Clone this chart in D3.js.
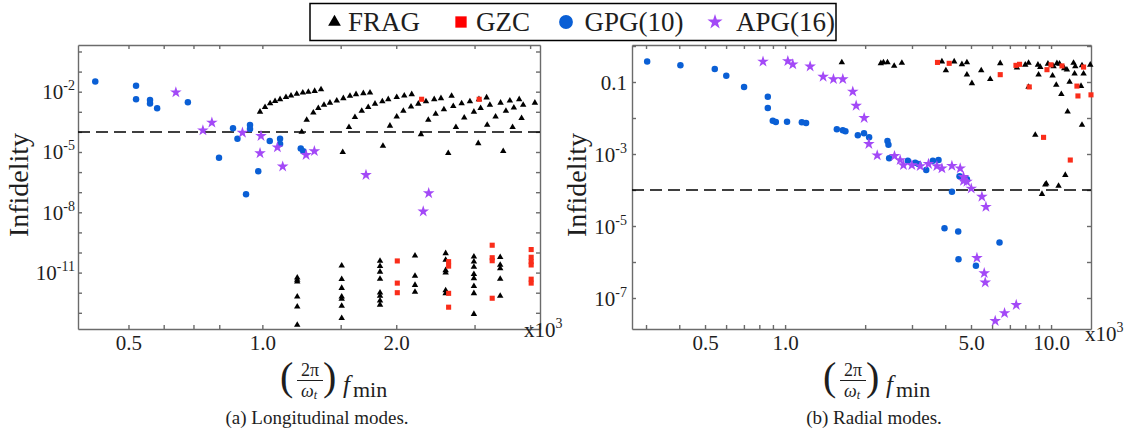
<!DOCTYPE html>
<html>
<head>
<meta charset="utf-8">
<script src="https://cdn.jsdelivr.net/npm/d3@7"></script>
<style>
    body { margin: 0; background: #fff; }
    svg text { font-family: "Liberation Serif", "Times New Roman", serif; fill: #1e1e1e; }
</style>
</head>
<body>
<svg id="fig" width="1129" height="433"></svg>
<script>
// values are [f_min (x10^3), infidelity]

// (a) longitudinal modes
var longFRAG = [
    [0.988,1.0e-3],[1.014,1.7e-3],[1.041,2.6e-3],[1.068,3.4e-3],[1.096,4.2e-3],[1.130,5.3e-3],[1.160,6.3e-3],[1.195,7.7e-3],[1.233,8.9e-3],[1.269,9.7e-3],[1.311,1.08e-2],[1.355,1.3e-2],
    [1.226,1.0e-4],[1.258,3.9e-4],[1.302,9.1e-4],[1.336,1.5e-3],[1.376,2.2e-3],[1.419,2.8e-3],[1.470,3.6e-3],[1.521,4.7e-3],[1.574,6.1e-3],[1.624,7.4e-3],[1.687,8.3e-3],[1.746,8.9e-3],
    [1.566,1.7e-4],[1.615,5.4e-4],[1.673,1.1e-3],[1.730,1.7e-3],[1.792,2.5e-3],[1.861,3.3e-3],[1.919,4.2e-3],[2.005,5.3e-3],[2.085,6.3e-3],[2.167,7.4e-3],
    [1.936,2.0e-4],[2.005,5.7e-4],[2.075,1.1e-3],[2.159,1.8e-3],[2.242,2.5e-3],[2.333,3.3e-3],[2.435,4.2e-3],[2.521,4.7e-3],[2.664,6.1e-3],
    [2.273,7.6e-5],[2.361,3.9e-4],[2.453,7.8e-4],[2.560,1.3e-3],[2.687,1.9e-3],[2.806,2.6e-3],[2.929,3.3e-3],[3.069,4.2e-3],[3.193,5.1e-3],
    [2.724,1.7e-4],[2.844,5.1e-4],[2.990,1.0e-3],[3.096,1.5e-3],[3.248,2.2e-3],[3.433,2.8e-3],[3.602,3.6e-3],[3.780,4.2e-3],[4.100,2.8e-3],
    [3.203,2.2e-4],[3.345,5.7e-4],[3.529,1.1e-3],[3.677,1.6e-3],[3.859,2.2e-3],
    [3.653,1.7e-4],[3.827,4.8e-4],
    [1.516,9.8e-6],[1.867,2.0e-5],[2.618,8.7e-6],[3.058,2.7e-5],[3.480,1.1e-5],
    [1.198,5.6e-12],[1.198,4.3e-12],[1.198,3.5e-12],[1.198,6.3e-13],[1.198,2.0e-13],[1.198,2.5e-14],
    [1.508,2.2e-11],[1.508,4.7e-12],[1.508,1.7e-12],[1.508,6.3e-13],[1.508,4.9e-13],[1.508,2.2e-13],[1.508,5.4e-14],
    [1.839,3.8e-11],[1.839,2.1e-11],[1.839,1.1e-11],[1.839,4.8e-12],[1.839,1.0e-12],[1.839,6.9e-13],[1.839,4.0e-13],[1.839,2.5e-13],
    [2.204,6.9e-11],[2.204,6.8e-12],[2.204,2.4e-12],[2.204,1.1e-12],
    [2.583,9.1e-11],[2.583,4.3e-11],[2.583,1.3e-11],[2.583,1.0e-11],[2.583,1.3e-12],[2.583,9.3e-13],
    [2.990,6.2e-11],[2.990,3.5e-11],[2.990,1.9e-11],[2.990,8.3e-12],[2.990,5.2e-12],[2.990,2.1e-12],[2.990,9.3e-13],[2.990,8.7e-14],
    [3.426,5.8e-11],[3.426,2.4e-11],[3.426,1.6e-11],[3.426,4.8e-12],[3.426,6.9e-13]
];
var longGZC = [
    [2.281,4.2e-3],[3.073,4.2e-3],
    [2.011,3.8e-11],[2.011,3.0e-12],[2.011,1.0e-12],
    [2.623,3.5e-11],[2.623,2.1e-11],[2.623,9.3e-13],[2.623,1.9e-13],
    [3.287,2.3e-10],[3.287,5.5e-11],[3.287,3.9e-11],[3.287,5.3e-13],
    [4.022,1.4e-10],[4.022,5.8e-11],[4.022,3.5e-11],[4.022,2.4e-11],[4.022,4.7e-12],[4.022,3.0e-12]
];
var longGPG = [
    [0.421,3.2e-2],[0.520,2.0e-2],[0.520,4.2e-3],[0.559,3.9e-3],[0.559,2.6e-3],[0.580,1.5e-3],[0.680,3.0e-3],
    [0.799,5.2e-6],[0.859,1.5e-4],[0.879,4.5e-5],[0.938,2.2e-4],[0.938,1.4e-4],[0.979,1.1e-6],[0.919,7.9e-8],
    [1.039,3.5e-5],[1.096,4.5e-5],[1.096,2.5e-5],[1.220,1.5e-5],[1.236,1.1e-5]
];
var longAPG = [
    [0.639,9.3e-3],[0.735,1.2e-4],[0.770,2.9e-4],[0.902,9.1e-5],[0.993,6.3e-5],[0.988,8.7e-6],[1.081,1.7e-5],
    [1.111,1.9e-6],[1.254,7.1e-6],[1.309,1.1e-5],[1.710,7.2e-7],[2.366,8.9e-8],[2.300,1.1e-8]
];

// (b) radial modes
var radFRAG = [
    [1.634,0.35],[2.291,0.33],[2.343,0.35],[2.426,0.35],[2.571,0.28],[2.748,0.34],
    [3.887,0.37],[4.023,0.21],[4.323,0.37],[4.621,0.31],[4.826,0.35],[4.826,0.16],[5.040,0.092],[5.463,0.21],[5.905,0.12],[6.440,0.33],
    [7.442,0.25],[7.998,0.30],[8.230,0.34],[8.927,0.30],[9.108,0.26],[8.974,0.16],[8.230,0.073],[9.734,0.32],[10.13,0.15],[10.22,0.27],
    [10.52,0.33],[10.76,0.32],[11.21,0.24],[11.47,0.22],[10.46,0.083],[10.93,0.046],[11.74,0.10],[12.15,0.34],[12.33,0.27],[12.26,0.17],
    [13.07,0.29],[13.25,0.17],[12.96,0.077],[11.54,0.015],[13.07,6.4e-3],[8.722,3.4e-3],[11.31,2.6e-4],
    [9.511,1.4e-4],[10.67,1.3e-4],[9.243,7.7e-5],[9.594,1.5e-4],[14.04,0.30]
];
var radGZC = [
    [3.741,0.35],[4.140,0.33],[6.440,0.16],[7.379,0.29],[7.612,0.31],[8.279,0.073],[9.652,0.22],[9.991,0.30],
    [10.99,0.28],[12.51,0.077],[12.62,0.041],[13.25,0.26],[14.13,0.044],[9.372,2.9e-3],[11.81,6.8e-4]
];
var radGPG = [
    [0.303,0.37],[0.404,0.29],[0.544,0.23],[0.601,0.15],[0.701,0.073],[0.861,0.039],[0.861,0.019],[0.899,8.4e-3],
    [0.923,7.7e-3],[1.017,7.9e-3],[1.156,7.6e-3],[1.199,7.3e-3],[1.565,4.9e-3],[1.648,4.6e-3],[1.686,4.3e-3],[1.877,3.3e-3],
    [1.98,3.8e-3],[2.07,2.9e-3],[2.426,2.3e-3],[2.447,1.8e-3],[2.462,7.6e-4],[2.894,6.5e-4],[3.084,5.7e-4],[3.174,5.3e-4],
    [3.393,3.6e-4],[3.594,6.5e-4],[3.774,6.8e-4],[4.527,2.4e-4],[4.826,2.0e-4],[4.24,9.0e-5],[3.975,8.6e-6],[4.476,7.0e-6],
    [6.400,3.5e-6],[4.487,1.2e-6],[5.218,7.9e-7]
];
var radAPG = [
    [0.826,0.37],[1.024,0.38],[1.069,0.31],[1.242,0.27],[1.390,0.14],[1.520,0.12],[1.648,0.12],[1.797,0.054],[1.850,0.022],
    [1.983,0.010],[2.065,1.9e-3],[2.22,9.2e-4],[2.578,8.8e-4],[2.708,6.8e-4],[2.786,4.9e-4],[2.996,4.9e-4],[3.221,4.6e-4],
    [3.461,5.3e-4],[3.721,4.6e-4],[3.887,4.0e-4],[4.238,4.7e-4],[4.554,4.0e-4],[4.685,2.3e-4],[4.685,1.8e-4],[4.826,1.7e-4],
    [5.010,1.1e-4],[5.495,6.5e-5],[5.690,3.4e-5],[5.263,1.3e-6],[5.607,4.9e-7],[5.655,2.7e-7],[7.397,6.4e-8],[6.685,3.8e-8],[6.166,2.3e-8]
];

var threshold = 1e-4;

var longXTicks = [0.5, 0.6, 0.7, 0.8, 1.0, 1.5, 2.0, 3.0, 4.0];
var longXLabels = [0.5, 1.0, 2.0];
var longYExp = [-13, -12, -11, -10, -9, -8, -7, -6, -5, -4, -3, -2, -1, 0];
var longYLabels = [-2, -5, -8, -11];

var radXTicks = [0.3, 0.4, 0.5, 0.6, 0.7, 0.8, 0.9, 1.0, 2.0, 3.0, 4.0, 5.0, 6.0, 7.0, 8.0, 9.0, 10.0];
var radXLabels = [0.5, 1.0, 5.0, 10.0];
var radYExp = [-7, -6, -5, -4, -3, -2, -1, 0];
var radYLabels = [-1, -3, -5, -7];

var seriesNames = ["FRAG", "GZC", "GPG(10)", "APG(16)"];
var seriesColors = ["#000000", "#fa2d1a", "#0a5fd5", "#a349f7"];

var svg = d3.select("#fig");
var axisColor = "#6b6b6b";

var symbolFor = [d3.symbolTriangle, d3.symbolSquare, d3.symbolCircle, d3.symbolStar];
var plotSizes = [18, 26, 33, 42];
var legendSizes = [70, 128, 150, 72];

let drawXLabel = function (x0) {
    let g = svg.append("g");
    g.append("text").attr("x", x0).attr("y", 390).style("font-size", "40px").text("(");
    g.append("text").attr("x", x0 + 30).attr("y", 375.5).attr("text-anchor", "middle")
        .style("font-size", "18px").text("2π");
    g.append("line").attr("x1", x0 + 17).attr("x2", x0 + 43).attr("y1", 380.5).attr("y2", 380.5)
        .attr("stroke", "#1e1e1e").attr("stroke-width", 1);
    let w = g.append("text").attr("x", x0 + 29).attr("y", 397).attr("text-anchor", "middle")
        .style("font-size", "18px").style("font-style", "italic");
    w.append("tspan").text("ω");
    w.append("tspan").attr("dy", 2).style("font-size", "12px").text("t");
    g.append("text").attr("x", x0 + 43).attr("y", 390).style("font-size", "40px").text(")");
    g.append("text").attr("x", x0 + 63).attr("y", 393).style("font-size", "25px").style("font-style", "italic").text("f");
    g.append("text").attr("x", x0 + 73).attr("y", 397).style("font-size", "22px").text("min");
};

let drawPanel = function (p) {
    var x = d3.scaleLog().domain(p.xDomain).range([p.left, p.right]);
    var y = d3.scaleLog().domain(p.yDomain).range([p.bottom, p.top]);
    var yTicks = p.yExp.map(function (e) { return Math.pow(10, e); });

    var g = svg.append("g");

    var fmt = d3.format(".1f");
    var bottom = g.append("g").attr("transform", "translate(0," + p.bottom + ")")
        .call(d3.axisBottom(x).tickValues(p.xTicks).tickSizeInner(-4).tickSizeOuter(0).tickPadding(6)
            .tickFormat(function (d) { return p.xLabels.indexOf(d) >= 0 ? fmt(d) : ""; }));
    bottom.selectAll("text").style("font-size", "21px");

    g.append("g").attr("transform", "translate(0," + p.top + ")")
        .call(d3.axisTop(x).tickValues(p.xTicks).tickSizeInner(-4).tickSizeOuter(0).tickFormat(""));

    var left = g.append("g").attr("transform", "translate(" + p.left + ",0)")
        .call(d3.axisLeft(y).tickValues(yTicks).tickSizeInner(-4).tickSizeOuter(0).tickFormat(""));

    g.append("g").attr("transform", "translate(" + p.right + ",0)")
        .call(d3.axisRight(y).tickValues(yTicks).tickSizeInner(-4).tickSizeOuter(0).tickFormat(""));

    g.selectAll(".domain, .tick line").attr("stroke", axisColor).attr("stroke-width", 1.4);

    // decade labels, with superscripts
    left.selectAll(".tick").filter(function (d) {
        return p.yLabels.indexOf(Math.round(Math.log10(d))) >= 0;
    }).each(function (d) {
        var e = Math.round(Math.log10(d));
        var t = d3.select(this).append("text")
            .attr("x", -p.labelGap).attr("y", 7).attr("text-anchor", "end")
            .style("font-size", "21px");
        if (e === -1) {
            t.text("0.1");
        } else {
            t.append("tspan").text("10");
            t.append("tspan").attr("dy", -9).style("font-size", "14px").text(String(e));
        }
    });

    // x10^3 multiplier
    var m = g.append("text").attr("x", p.multX).attr("y", p.multY).style("font-size", "21px");
    m.append("tspan").text("x10");
    m.append("tspan").attr("dy", -9).style("font-size", "14px").text("3");

    g.append("text")
        .attr("transform", "translate(" + p.ylabX + "," + ((p.top + p.bottom) / 2 - 2) + ") rotate(-90)")
        .attr("text-anchor", "middle").style("font-size", "28px").text("Infidelity");

    // threshold line
    g.append("line")
        .attr("x1", p.left).attr("x2", p.right)
        .attr("y1", y(threshold)).attr("y2", y(threshold))
        .attr("stroke", "#000").attr("stroke-width", 1.5).attr("stroke-dasharray", "12,6");

    p.series.forEach(function (data, i) {
        g.append("g").selectAll("path")
            .data(data)
            .enter()
            .append("path")
            .attr("transform", function (d) { return "translate(" + x(d[0]) + "," + y(d[1]) + ")"; })
            .attr("d", d3.symbol().type(symbolFor[i]).size(plotSizes[i]))
            .attr("fill", seriesColors[i]);
    });

    drawXLabel(p.xlabX);

    g.append("text").attr("x", p.capX).attr("y", 424).attr("text-anchor", "middle")
        .style("font-size", "19px").text(p.caption);
};

drawPanel({
    left: 78, right: 540, top: 45, bottom: 329,
    xDomain: [0.385, 4.21], yDomain: [Math.pow(10, -13.806), Math.pow(10, 0.323)],
    xTicks: longXTicks, xLabels: longXLabels, yExp: longYExp, yLabels: longYLabels,
    labelGap: 3, multX: 524, multY: 337, ylabX: 28, xlabX: 280, capX: 317,
    caption: "(a) Longitudinal modes.",
    series: [longFRAG, longGZC, longGPG, longAPG]
});

drawPanel({
    left: 632, right: 1091, top: 45, bottom: 329,
    xDomain: [0.2657, 14.13], yDomain: [Math.pow(10, -7.861), Math.pow(10, 0.028)],
    xTicks: radXTicks, xLabels: radXLabels, yExp: radYExp, yLabels: radYLabels,
    labelGap: 5, multX: 1085, multY: 341, ylabX: 586, xlabX: 823, capX: 874,
    caption: "(b) Radial modes.",
    series: [radFRAG, radGZC, radGPG, radAPG]
});

// legend
var legend = svg.append("g");
legend.append("rect").attr("x", 310).attr("y", 3.5).attr("width", 526).attr("height", 37)
    .attr("fill", "#fff").attr("stroke", "#000").attr("stroke-width", 1.5);
var legendSym = [334.5, 461, 566, 715];
var legendText = [348, 476, 584.5, 736];
seriesNames.forEach(function (name, i) {
    legend.append("path")
        .attr("transform", "translate(" + legendSym[i] + ",22)")
        .attr("d", d3.symbol().type(symbolFor[i]).size(legendSizes[i]))
        .attr("fill", i === 1 ? "#ff0000" : seriesColors[i]);
    legend.append("text").attr("x", legendText[i]).attr("y", 31)
        .style("font-size", "27px").text(name);
});
</script>
</body>
</html>
